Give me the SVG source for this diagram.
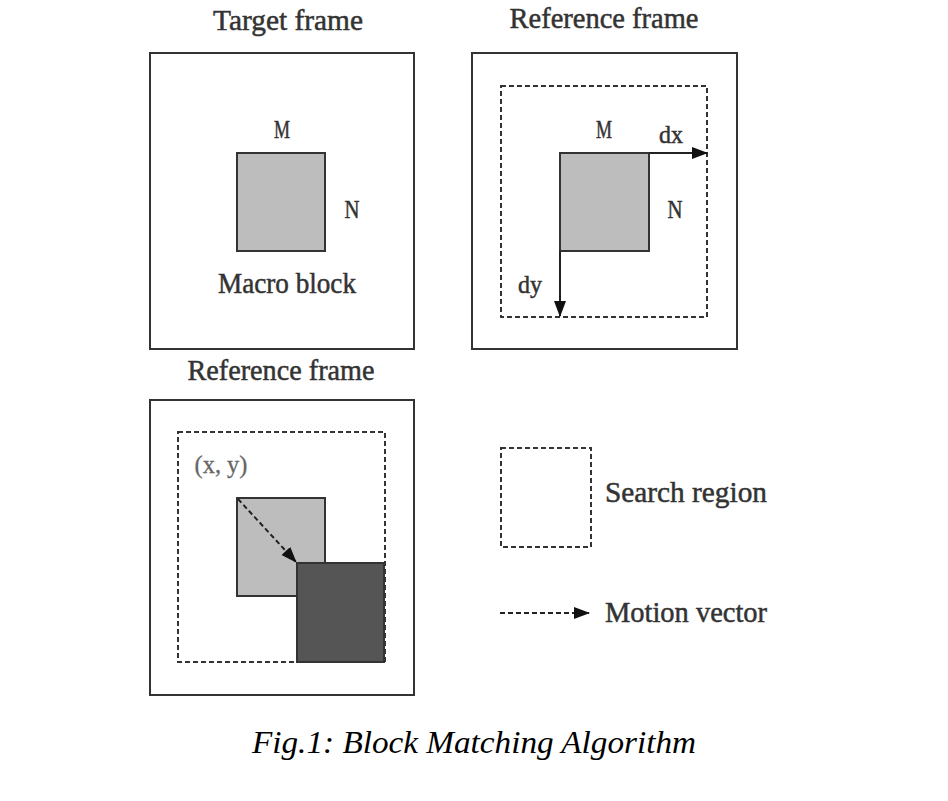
<svg xmlns="http://www.w3.org/2000/svg" width="948" height="801" viewBox="0 0 948 801">
<defs>
<style>
.frame{fill:#fff;stroke:#333;stroke-width:2}
.block{fill:#bdbdbd;stroke:#333;stroke-width:2}
.dark{fill:#555;stroke:#333;stroke-width:2}
.dash{fill:none;stroke:#333;stroke-width:2;stroke-dasharray:5,3}
.lbl{font-family:"Liberation Serif","DejaVu Serif",serif;font-size:29px;fill:#333;stroke:#333;stroke-width:0.5}
.sm{font-size:26px}
.cap{font-family:"Liberation Serif","DejaVu Serif",serif;font-size:32px;font-style:italic;fill:#000}
.ln{stroke:#222;stroke-width:2;fill:none}
</style>
<marker id="ah" markerWidth="16" markerHeight="12" refX="15" refY="6" orient="auto" markerUnits="userSpaceOnUse">
<path d="M0,0 L16,6 L0,12 Z" fill="#111"/>
</marker>
</defs>
<rect width="948" height="801" fill="#fff"/>

<g id="target-frame">
<text class="lbl" x="288" y="30" text-anchor="middle" textLength="150" lengthAdjust="spacingAndGlyphs">Target frame</text>
<rect class="frame" x="150" y="53" width="264" height="296"/>
<rect class="block" x="237" y="153" width="88" height="98"/>
<text class="lbl sm" x="282" y="138" text-anchor="middle" textLength="16" lengthAdjust="spacingAndGlyphs">M</text>
<text class="lbl sm" x="352" y="218" text-anchor="middle" textLength="15" lengthAdjust="spacingAndGlyphs">N</text>
<text class="lbl" x="287" y="293" text-anchor="middle" textLength="138" lengthAdjust="spacingAndGlyphs">Macro block</text>
</g>

<g id="reference-frame-1">
<text class="lbl" x="604" y="28" text-anchor="middle" textLength="189" lengthAdjust="spacingAndGlyphs">Reference frame</text>
<rect class="frame" x="472" y="53" width="265" height="296"/>
<rect class="dash" x="501" y="86" width="206" height="231"/>
<rect class="block" x="560" y="153" width="89" height="98"/>
<text class="lbl sm" x="604" y="138" text-anchor="middle" textLength="16" lengthAdjust="spacingAndGlyphs">M</text>
<text class="lbl sm" x="671" y="143" text-anchor="middle" textLength="24" lengthAdjust="spacingAndGlyphs">dx</text>
<text class="lbl sm" x="675" y="218" text-anchor="middle" textLength="15" lengthAdjust="spacingAndGlyphs">N</text>
<text class="lbl sm" x="530" y="293" text-anchor="middle" textLength="24" lengthAdjust="spacingAndGlyphs">dy</text>
</g>

<g id="reference-frame-2">
<text class="lbl" x="281" y="380" text-anchor="middle" textLength="187" lengthAdjust="spacingAndGlyphs">Reference frame</text>
<rect class="frame" x="150" y="400" width="264" height="295"/>
<rect class="dash" x="178" y="432" width="207" height="230"/>
<rect class="block" x="237" y="498" width="88" height="98"/>
<rect class="dark" x="297" y="563" width="87" height="99"/>
<text class="lbl sm" x="221" y="473" text-anchor="middle" style="fill:#666;stroke:#666;stroke-width:0.3" textLength="53" lengthAdjust="spacingAndGlyphs">(x, y)</text>
</g>

<g id="legend">
<rect class="dash" x="501" y="448" width="90" height="99"/>
<text class="lbl" x="686" y="502" text-anchor="middle" textLength="162" lengthAdjust="spacingAndGlyphs">Search region</text>
<text class="lbl" x="686" y="622" text-anchor="middle" textLength="162" lengthAdjust="spacingAndGlyphs">Motion vector</text>
</g>

<g id="connectors">
<line class="ln" x1="649" y1="153" x2="707" y2="153" marker-end="url(#ah)"/>
<line class="ln" x1="560" y1="251" x2="560" y2="316" marker-end="url(#ah)"/>
<line class="ln" x1="238" y1="499" x2="296" y2="562" stroke-dasharray="5,3" marker-end="url(#ah)"/>
<line class="ln" x1="500" y1="613" x2="589" y2="613" stroke-dasharray="5,3" marker-end="url(#ah)"/>
</g>

<text class="cap" x="474" y="753" text-anchor="middle" textLength="444" lengthAdjust="spacingAndGlyphs">Fig.1: Block Matching Algorithm</text>
</svg>
